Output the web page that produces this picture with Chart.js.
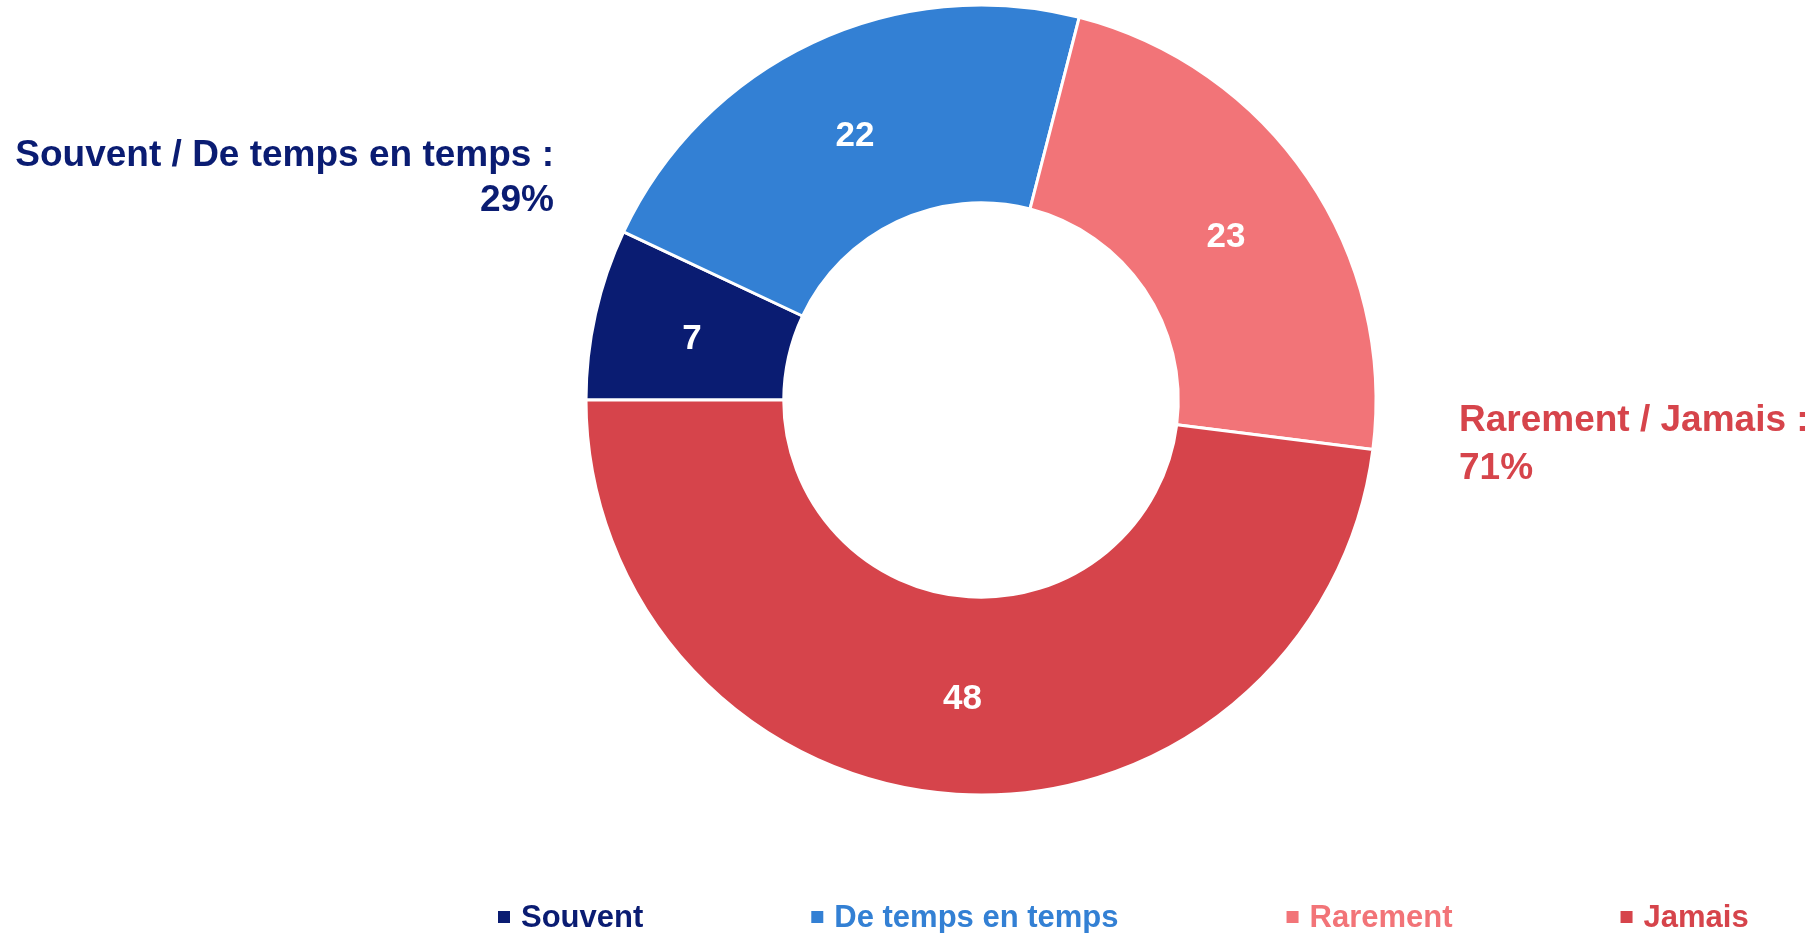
<!DOCTYPE html>
<html lang="fr">
<head>
<meta charset="utf-8">
<title>Fréquence</title>
<script src="https://cdn.jsdelivr.net/npm/chart.js@4/dist/chart.umd.min.js"></script>
<style>
  html, body { margin: 0; padding: 0; background: #fff; }
  #wrap { position: relative; width: 1818px; height: 933px; }
</style>
</head>
<body>
<div id="wrap"><canvas id="myChart"></canvas></div>
<script>
// Chart data
let categories = ['Souvent', 'De temps en temps', 'Rarement', 'Jamais'];
let values = [7, 22, 23, 48];
let colours = ['#0a1c72', '#3380d4', '#f27478', '#d6444b'];
let groupLabels = ['Souvent / De temps en temps :', 'Rarement / Jamais :'];
let groupTotals = ['29%', '71%'];

let fontFamily = '"Liberation Sans", Arial, sans-serif';

// white numbers in the middle of each slice
let sliceLabels = {
  id: 'sliceLabels',
  afterDatasetsDraw(chart) {
    let ctx = chart.ctx;
    let meta = chart.getDatasetMeta(0);
    ctx.save();
    ctx.font = 'bold 35px ' + fontFamily;
    ctx.fillStyle = '#ffffff';
    ctx.textAlign = 'center';
    ctx.textBaseline = 'middle';
    meta.data.forEach(function(arc, i) {
      let p = arc.getCenterPoint();
      ctx.fillText(values[i], p.x, p.y + 4);
    });
    ctx.restore();
  }
};

// group totals beside the ring
let groupNotes = {
  id: 'groupNotes',
  afterDraw(chart) {
    let ctx = chart.ctx;
    ctx.save();
    ctx.font = 'bold 37px ' + fontFamily;
    ctx.textBaseline = 'alphabetic';

    ctx.fillStyle = colours[0];
    ctx.textAlign = 'right';
    ctx.fillText(groupLabels[0], 554, 166);
    ctx.fillText(groupTotals[0], 554, 211);

    ctx.fillStyle = colours[3];
    ctx.textAlign = 'left';
    ctx.fillText(groupLabels[1], 1459, 431);
    ctx.fillText(groupTotals[1], 1459, 479);
    ctx.restore();
  }
};

// legend row at the bottom
let bottomLegend = {
  id: 'bottomLegend',
  afterDraw(chart) {
    let ctx = chart.ctx;
    ctx.save();
    ctx.font = 'bold 31px ' + fontFamily;
    ctx.textAlign = 'left';
    ctx.textBaseline = 'alphabetic';
    let x = 498;
    for (let i = 0; i < categories.length; i++) {
      ctx.fillStyle = colours[i];
      ctx.fillRect(x, 911, 12, 12);
      ctx.fillText(categories[i], x + 23, 927);
      x = x + 23 + ctx.measureText(categories[i]).width + 168;
    }
    ctx.restore();
  }
};

let ctx = document.getElementById('myChart').getContext('2d');
// eslint-disable-next-line no-undef
let myChart = new Chart(ctx, {
  type: 'doughnut',
  data: {
    labels: categories,
    datasets: [{
      data: values,
      backgroundColor: colours,
      borderColor: '#ffffff',
      borderWidth: 3,
      hoverOffset: 0
    }]
  },
  options: {
    responsive: true,
    maintainAspectRatio: false,
    animation: false,
    rotation: -90,
    radius: 395,
    cutout: 199,
    layout: {
      padding: { left: 144, right: 0, top: 0, bottom: 133 }
    },
    plugins: {
      legend: { display: false },
      tooltip: { enabled: false }
    }
  },
  plugins: [sliceLabels, groupNotes, bottomLegend]
});
</script>
</body>
</html>
